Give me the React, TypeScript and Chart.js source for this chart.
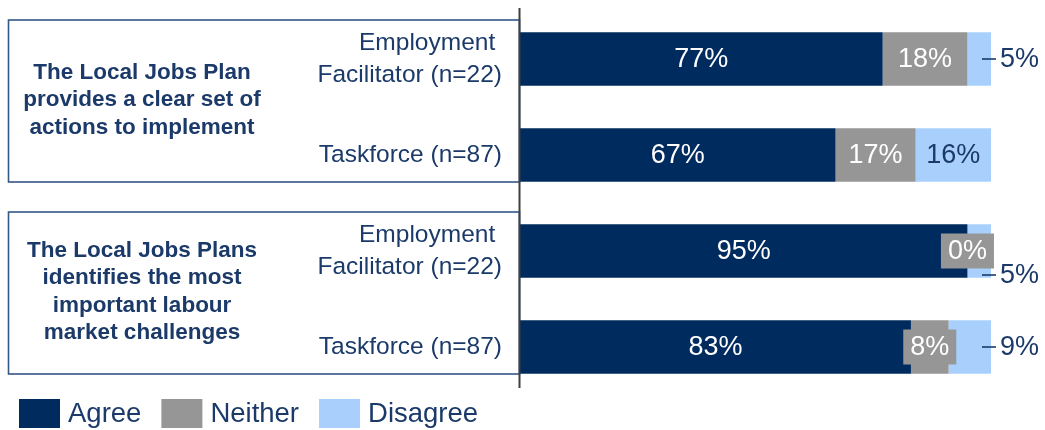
import React, { useEffect, useRef } from "react";
import { Chart, registerables } from "chart.js";

Chart.register(...registerables);

const groupLabels: string[][] = [
  ["The Local Jobs Plan", "provides a clear set of", "actions to implement"],
  ["The Local Jobs Plans", "identifies the most", "important labour", "market challenges"],
];
const categories: (string | string[])[] = [
  ["Employment ", "Facilitator (n=22)"],
  "Taskforce (n=87)",
  ["Employment ", "Facilitator (n=22)"],
  "Taskforce (n=87)",
];
const seriesNames = ["Agree", "Neither", "Disagree"];
const agree = [77, 67, 95, 83];
const neither = [18, 17, 0, 8];
const disagree = [5, 16, 5, 9];

const NAVY = "#002b5e";
const GREY = "#969696";
const LIGHT = "#a9d0fd";
const TEXT = "#1b3a69";
const FONT = "'Liberation Sans', Arial, sans-serif";

const decorPlugin = {
  id: "decor",
  beforeDatasetsDraw(chart: any) {
    const { ctx, chartArea } = chart;
    const y = chart.scales.y;
    ctx.save();
    const groups = [
      [0, 1],
      [2, 3],
    ];
    ctx.strokeStyle = "#34578a";
    ctx.lineWidth = 1.6;
    groups.forEach((g, gi) => {
      const top = y.getPixelForValue(g[0]) - 39;
      const bottom = y.getPixelForValue(g[1]) + 27;
      ctx.strokeRect(8.5, top, chartArea.left - 9, bottom - top);
      const lines = groupLabels[gi];
      ctx.fillStyle = TEXT;
      ctx.font = `bold 22.5px ${FONT}`;
      ctx.textAlign = "center";
      ctx.textBaseline = "middle";
      const lh = 27.5;
      const mid = (top + bottom) / 2 - 1;
      lines.forEach((ln, li) => {
        ctx.fillText(ln, 142, mid + (li - (lines.length - 1) / 2) * lh);
      });
    });
    ctx.restore();
  },
  afterDatasetsDraw(chart: any) {
    const { ctx, chartArea } = chart;
    ctx.save();
    ctx.strokeStyle = "#3f3f3f";
    ctx.lineWidth = 2;
    ctx.beginPath();
    ctx.moveTo(chartArea.left - 0.5, chartArea.top - 3);
    ctx.lineTo(chartArea.left - 0.5, chartArea.bottom - 7);
    ctx.stroke();

    ctx.font = `27px ${FONT}`;
    ctx.textBaseline = "middle";
    const m0 = chart.getDatasetMeta(0);
    const m1 = chart.getDatasetMeta(1);
    const m2 = chart.getDatasetMeta(2);
    const boxRights: number[] = [];
    m0.data.forEach((el: any, i: number) => {
      ctx.fillStyle = "#ffffff";
      ctx.textAlign = "center";
      ctx.fillText(`${agree[i]}%`, (el.x + el.base) / 2, el.y + 1);
    });
    m1.data.forEach((el: any, i: number) => {
      const cx = (el.x + el.base) / 2;
      const txt = `${neither[i]}%`;
      if (neither[i] < 10) {
        const w = ctx.measureText(txt).width + 14;
        const h = 35;
        ctx.fillStyle = GREY;
        ctx.fillRect(cx - w / 2, el.y - h / 2, w, h);
        boxRights[i] = cx + w / 2;
      } else {
        boxRights[i] = -Infinity;
      }
      ctx.fillStyle = "#ffffff";
      ctx.textAlign = "center";
      ctx.fillText(txt, cx, el.y + 1);
    });
    m2.data.forEach((el: any, i: number) => {
      const txt = `${disagree[i]}%`;
      if (disagree[i] < 10) {
        let ly = el.y;
        if (boxRights[i] > el.x - 10) ly = el.y + 24;
        ctx.strokeStyle = TEXT;
        ctx.lineWidth = 1.6;
        ctx.beginPath();
        ctx.moveTo(el.x - 9, ly);
        ctx.lineTo(el.x + 5, ly);
        ctx.stroke();
        ctx.fillStyle = TEXT;
        ctx.textAlign = "left";
        ctx.fillText(txt, el.x + 9, ly + 1);
      } else {
        ctx.fillStyle = TEXT;
        ctx.textAlign = "center";
        ctx.fillText(txt, (el.x + el.base) / 2, el.y + 1);
      }
    });

    ctx.font = `27.5px ${FONT}`;
    let x = 19;
    const ly = 399;
    chart.data.datasets.forEach((ds: any) => {
      ctx.fillStyle = ds.backgroundColor;
      ctx.fillRect(x, ly, 41, 29);
      x += 49;
      ctx.fillStyle = TEXT;
      ctx.textAlign = "left";
      ctx.fillText(ds.label, x, ly + 15);
      x += ctx.measureText(ds.label).width + 20;
    });
    ctx.restore();
  },
};

export default function App() {
  const ref = useRef<HTMLCanvasElement | null>(null);
  useEffect(() => {
    if (!ref.current) return;
    const chart = new Chart(ref.current, {
      type: "bar",
      data: {
        labels: categories,
        datasets: [
          { label: seriesNames[0], data: agree, backgroundColor: NAVY },
          { label: seriesNames[1], data: neither, backgroundColor: GREY },
          { label: seriesNames[2], data: disagree, backgroundColor: LIGHT },
        ],
      },
      options: {
        indexAxis: "y",
        animation: false,
        responsive: true,
        maintainAspectRatio: false,
        layout: { padding: { left: 0, right: 54, top: 11, bottom: 35 } },
        datasets: { bar: { barPercentage: 0.555, categoryPercentage: 1 } },
        plugins: { legend: { display: false }, tooltip: { enabled: false } },
        scales: {
          x: { display: false, stacked: true, min: 0, max: 100 },
          y: {
            stacked: true,
            grid: { display: false, drawTicks: false },
            border: { display: false },
            ticks: {
              padding: 18,
              color: TEXT,
              font: { family: FONT, size: 24.5, lineHeight: 1.3 },
            },
            afterFit: (scale: any) => {
              scale.width = 520;
              scale.paddingTop = 0;
              scale.paddingBottom = 0;
            },
          },
        },
      },
      plugins: [decorPlugin],
    });
    return () => chart.destroy();
  }, []);
  return (
    <div style={{ position: "fixed", left: 0, top: 0, width: 1045, height: 430, background: "#fff" }}>
      <canvas ref={ref} />
    </div>
  );
}
